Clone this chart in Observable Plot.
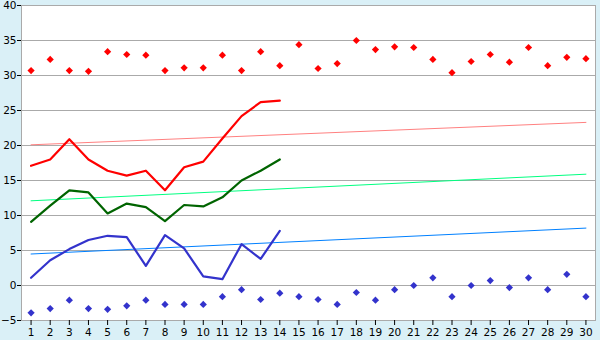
<!DOCTYPE html>
<html>
<head>
<meta charset="utf-8">
<script src="https://cdn.jsdelivr.net/npm/d3@7"></script>
<script src="https://cdn.jsdelivr.net/npm/@observablehq/plot@0.6"></script>
<style>
  html, body { margin: 0; padding: 0; background: #daf0f7; }
  #chart { width: 600px; height: 340px; }
</style>
</head>
<body>
<div id="chart"></div>
<script>
const days = d3.range(1, 31);
const recordHigh = [30.7, 32.3, 30.7, 30.6, 33.4, 33.0, 32.9, 30.7, 31.1, 31.1,
                    32.9, 30.7, 33.4, 31.4, 34.4, 31.0, 31.7, 35.0, 33.7, 34.1,
                    34.0, 32.3, 30.4, 32.0, 33.0, 31.9, 34.0, 31.4, 32.6, 32.4];
const recordLow = [-3.9, -3.3, -2.1, -3.3, -3.4, -2.9, -2.1, -2.7, -2.7, -2.7,
                   -1.6, -0.6, -2.0, -1.1, -1.6, -2.0, -2.7, -1.0, -2.1, -0.6,
                   0.0, 1.1, -1.6, 0.0, 0.7, -0.3, 1.1, -0.6, 1.6, -1.6];
const highDays = d3.range(1, 15);
const dailyMax = [17.1, 18.0, 20.9, 18.0, 16.4, 15.7, 16.4, 13.6, 16.9, 17.7, 21.0, 24.2, 26.2, 26.4];
const dailyMean = [9.1, 11.4, 13.6, 13.3, 10.3, 11.7, 11.2, 9.2, 11.5, 11.3, 12.6, 15.0, 16.4, 18.0];
const dailyMin = [1.1, 3.6, 5.2, 6.5, 7.1, 6.9, 2.8, 7.2, 5.3, 1.3, 0.9, 5.9, 3.8, 7.8];
const trendDays = [1, 30];
const normalMax = [20.1, 23.3];
const normalMean = [12.1, 15.9];
const normalMin = [4.5, 8.2];
const yTicks = [-5, 0, 5, 10, 15, 20, 25, 30, 35, 40];

const pts = (xs, ys) => xs.map((x, i) => ({x, y: ys[i]}));

// square (equal width/height) diamond marker
const squareDiamond = {
  draw(context, size) {
    const r = Math.sqrt(size / Math.PI);
    context.moveTo(0, -r);
    context.lineTo(r, 0);
    context.lineTo(0, r);
    context.lineTo(-r, 0);
    context.closePath();
  }
};

const chart = Plot.plot({
  width: 600,
  height: 340,
  marginLeft: 21,
  marginRight: 5,
  marginTop: 5,
  marginBottom: 20,
  style: {background: "#daf0f7", fontFamily: "DejaVu Sans, Verdana, sans-serif", fontSize: "10.5px", color: "#000"},
  x: {domain: [0.5, 30.5], ticks: days, tickFormat: d => d, tickSize: 5, tickPadding: 2, label: null},
  y: {domain: [-5, 40], ticks: yTicks, tickSize: 4, tickPadding: 1, label: null},
  marks: [
    Plot.frame({fill: "white", stroke: "none"}),
    Plot.gridY(yTicks, {stroke: "#aaaaaa", strokeOpacity: 1}),
    Plot.frame({stroke: "#aaaaaa"}),
    Plot.line(pts(trendDays, normalMax), {x: "x", y: "y", stroke: "#ff8080", strokeWidth: 1}),
    Plot.line(pts(trendDays, normalMean), {x: "x", y: "y", stroke: "#00ff80", strokeWidth: 1}),
    Plot.line(pts(trendDays, normalMin), {x: "x", y: "y", stroke: "#0080ff", strokeWidth: 1}),
    Plot.line(pts(highDays, dailyMax), {x: "x", y: "y", stroke: "#ff0000", strokeWidth: 2.2}),
    Plot.line(pts(highDays, dailyMean), {x: "x", y: "y", stroke: "#006400", strokeWidth: 2.2}),
    Plot.line(pts(highDays, dailyMin), {x: "x", y: "y", stroke: "#3333cc", strokeWidth: 2.2}),
    Plot.dot(pts(days, recordHigh), {x: "x", y: "y", symbol: squareDiamond, r: 3.6, fill: "#ff0000"}),
    Plot.dot(pts(days, recordLow), {x: "x", y: "y", symbol: squareDiamond, r: 3.6, fill: "#3333cc"}),
    Plot.axisY(yTicks, {tickSize: 4, tickPadding: 1, stroke: "#000"}),
    Plot.axisX(days, {tickSize: 5, tickPadding: 3, stroke: "#000"})
  ]
});
document.getElementById("chart").appendChild(chart);
</script>
</body>
</html>
